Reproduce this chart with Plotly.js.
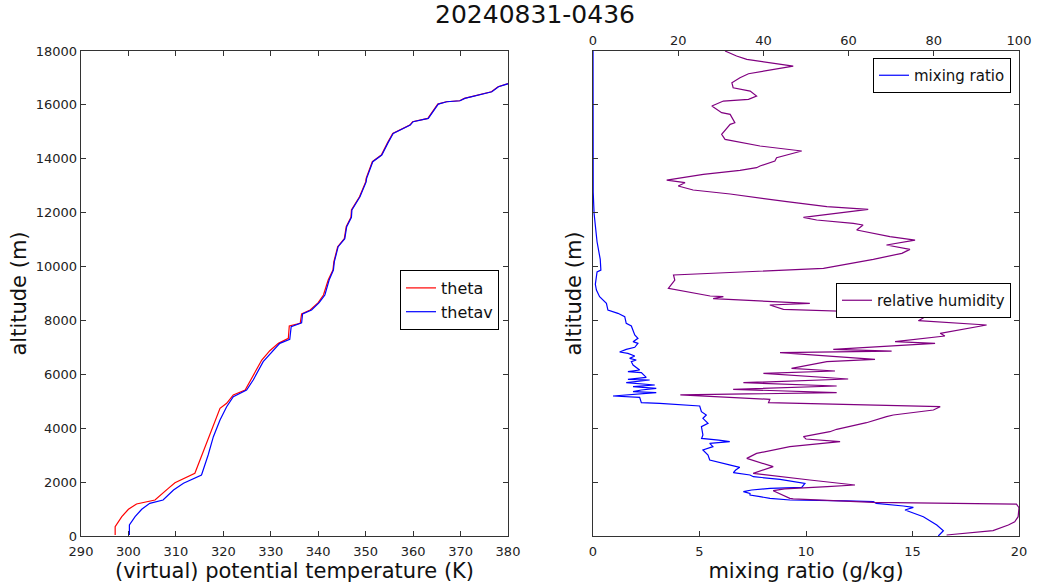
<!DOCTYPE html>
<html>
<head>
<meta charset="utf-8">
<script src="https://cdn.plot.ly/plotly-3.0.1.min.js"></script>
<style>html,body{margin:0;padding:0;background:#fff;}#chart{width:1039px;height:585px;}</style>
</head>
<body>
<div id="chart"></div>
<script>
// ---- data ----
var chartTitle = "20240831-0436";

var thetavAlt = [37, 408, 717, 990, 1212, 1336, 1707, 1955, 2264, 3006, 3686, 4305, 4799, 5170, 5418, 5789, 6470, 6840, 7150, 7300, 7768, 7916, 8239, 8387, 8660, 8944, 9500, 9871, 10180, 10737, 11035, 11479, 11825, 12098, 12592, 13140, 13274, 13891, 14139, 14590, 14944, 15252, 15376, 15500, 16031, 16117, 16154, 16243, 16320, 16489, 16674, 16798, 16950];
var thetavK = [300.2, 300.2, 301.4, 302.8, 304.5, 307.3, 309.5, 311.6, 315.4, 316.8, 317.9, 319.3, 320.7, 322.1, 324.9, 326.3, 328.4, 330.2, 331.9, 334.0, 334.3, 336.5, 336.7, 338.6, 340.2, 341.4, 342.3, 343.2, 343.4, 344.2, 345.6, 346.0, 347.0, 347.1, 348.8, 350.1, 350.2, 351.5, 353.4, 354.7, 355.8, 359.4, 360.0, 363.2, 365.3, 367.1, 369.9, 370.9, 372.6, 376.6, 378.0, 380.1, 383.0];

var thetaAlt = [37, 346, 717, 990, 1188, 1336, 1769, 1979, 2326, 2944, 3500, 4057, 4737, 4923, 5233, 5418, 5850, 6532, 6877, 7150, 7336, 7793, 7893, 8239, 8387, 8660, 8944, 9500, 9871, 10180, 10737, 11035, 11479, 11825, 12098, 12592, 13140, 13274, 13891, 14139, 14590, 14944, 15252, 15376, 15500, 16031, 16117, 16154, 16243, 16320, 16489, 16674, 16798, 16950];
var thetaK = [297.2, 297.2, 298.6, 300.0, 301.7, 305.6, 308.4, 309.8, 314.0, 315.4, 316.5, 317.9, 319.3, 320.7, 322.1, 324.6, 326.0, 328.1, 329.8, 331.6, 333.7, 333.9, 336.2, 336.5, 338.3, 340.0, 341.1, 342.1, 343.1, 343.3, 344.1, 345.5, 345.9, 346.9, 347.0, 348.7, 350.0, 350.1, 351.4, 353.3, 354.6, 355.7, 359.3, 359.9, 363.1, 365.2, 367.0, 369.8, 370.8, 372.5, 376.5, 377.9, 380.0, 382.9];

var mrAlt = [0, 198, 408, 717, 965, 1064, 1113, 1212, 1274, 1305, 1336, 1398, 1460, 1521, 1583, 1645, 1707, 1769, 1806, 1893, 1955, 2103, 2202, 2264, 2350, 2450, 2549, 2620, 2697, 2820, 3006, 3191, 3315, 3439, 3500, 3560, 3620, 3748, 4057, 4181, 4366, 4490, 4614, 4824, 4923, 4948, 5146, 5171, 5195, 5319, 5356, 5418, 5480, 5542, 5604, 5690, 5789, 5814, 5888, 6061, 6098, 6160, 6346, 6470, 6532, 6594, 6680, 6779, 6828, 6928, 7002, 7150, 7212, 7336, 7459, 7793, 7893, 8140, 8264, 8387, 8635, 8882, 9130, 9340, 9800, 9870, 10265, 10920, 11975, 12760, 14000, 16000, 18000];
var mrVal = [16.21, 16.45, 16.14, 15.51, 14.65, 15.04, 14.57, 13.3, 13.16, 11.9, 9.25, 8.31, 7.84, 7.37, 7.37, 7.06, 7.45, 8.31, 9.8, 9.87, 9.95, 8.78, 7.53, 7.37, 6.59, 6.7, 6.89, 6.5, 6.1, 5.48, 5.40, 5.16, 5.63, 5.48, 6.42, 5.9, 5.1, 5.16, 5.09, 5.40, 5.16, 5.32, 5.09, 5.01, 3.13, 2.27, 2.19, 1.56, 0.94, 2.97, 1.88, 2.27, 2.97, 1.88, 2.90, 1.56, 2.66, 1.64, 2.50, 2.27, 1.64, 2.19, 1.88, 1.80, 2.03, 1.72, 1.96, 1.64, 1.25, 1.56, 1.96, 2.11, 1.88, 2.11, 1.96, 1.80, 1.56, 1.49, 1.17, 0.70, 0.63, 0.31, 0.16, 0.11, 0.19, 0.37, 0.34, 0.19, 0.05, 0.01, 0.005, 0.003, 0.002];

var rhAlt = [37, 200, 408, 525, 717, 1050, 1185, 1250, 1380, 1398, 1682, 1750, 1831, 1893, 2078, 2326, 2573, 2882, 3067, 3315, 3501, 3600, 3686, 3871, 3960, 4205, 4428, 4490, 4676, 4799, 4948, 5072, 5237, 5319, 5443, 5567, 5690, 5826, 6037, 6123, 6223, 6470, 6557, 6803, 6865, 6929, 7150, 7212, 7422, 7522, 7830, 7991, 8239, 8412, 8573, 8635, 8808, 8882, 8907, 9192, 9500, 9686, 9934, 10268, 10491, 10639, 10799, 10984, 11109, 11356, 11541, 11604, 11727, 11827, 12124, 12221, 12407, 12692, 12840, 12989, 13112, 13211, 13423, 13570, 13669, 13731, 13916, 14040, 14288, 14473, 14721, 14906, 15277, 15339, 15648, 15710, 15957, 16143, 16205, 16329, 16514, 16637, 16823, 17009, 17157, 17442, 17690, 17813, 18000];
var rhVal = [83.0, 93.9, 97.5, 99.0, 99.8, 100, 99.4, 65.8, 47.0, 46.2, 42.3, 45.0, 55.0, 61.5, 50.9, 37.6, 42.3, 36.1, 38.4, 46.2, 58.0, 50.0, 49.4, 55.6, 57.2, 64.2, 68.9, 70.5, 79.9, 81.5, 41.2, 41.5, 20.5, 57.2, 32.9, 57.2, 35.3, 59.9, 40.0, 56.8, 46.6, 54.9, 66.2, 43.9, 70.1, 56.4, 80.3, 70.9, 82.6, 81.5, 92.4, 76.4, 79.1, 44.7, 41.5, 50.9, 28.2, 30.6, 27.5, 17.7, 19.2, 18.9, 54.1, 65.8, 72.5, 74.4, 68.9, 75.6, 69.7, 61.9, 63.4, 61.1, 52.5, 49.4, 64.6, 54.9, 45.5, 32.2, 23.5, 20.0, 21.6, 17.3, 25.9, 34.5, 38.4, 39.2, 42.7, 43.1, 49.0, 39.2, 31.0, 30.2, 32.2, 33.3, 32.2, 30.2, 27.9, 30.6, 36.5, 38.4, 36.9, 32.9, 32.6, 34.5, 36.5, 47.0, 36.1, 33.7, 31.0];

var tempTicks = [290, 300, 310, 320, 330, 340, 350, 360, 370, 380];
var altTicks = [0, 2000, 4000, 6000, 8000, 10000, 12000, 14000, 16000, 18000];
var mrTicks = [0, 5, 10, 15, 20];
var rhTicks = [0, 20, 40, 60, 80, 100];

// ---- chart ----
var FONT = "DejaVu Sans, Bitstream Vera Sans, sans-serif";
var FRAME = "#333";

var traces = [
  {x: thetaK, y: thetaAlt, name: "theta", type: "scatter", mode: "lines",
   line: {color: "#ff0000", width: 1.2}, xaxis: "x", yaxis: "y", legend: "legend"},
  {x: thetavK, y: thetavAlt, name: "thetav", type: "scatter", mode: "lines",
   line: {color: "#0000ff", width: 1.2}, xaxis: "x", yaxis: "y", legend: "legend"},
  {x: mrVal, y: mrAlt, name: "mixing ratio", type: "scatter", mode: "lines",
   line: {color: "#0000ff", width: 1.2}, xaxis: "x2", yaxis: "y2", legend: "legend2"},
  {x: rhVal, y: rhAlt, name: "relative humidity", type: "scatter", mode: "lines",
   line: {color: "#800080", width: 1.2}, xaxis: "x3", yaxis: "y2", legend: "legend3"}
];

function axisBase() {
  return {
    showgrid: false, zeroline: false, showline: true, linecolor: FRAME, linewidth: 1.3,
    ticks: "inside", ticklen: 5, tickwidth: 1, tickcolor: FRAME,
    tickfont: {family: FONT, size: 13, color: "#222"}, automargin: false
  };
}

var yDom = [1 - 536/585, 1 - 51/585];

var layout = {
  width: 1039, height: 585,
  margin: {l: 0, r: 0, t: 0, b: 0},
  paper_bgcolor: "#fff", plot_bgcolor: "#fff",
  font: {family: FONT, color: "#111"},
  showlegend: true,
  title: {text: chartTitle, x: 535/1039, xanchor: "center", y: 1 - 14/585, yanchor: "middle",
          font: {family: FONT, size: 25, color: "#111"}},
  xaxis: Object.assign(axisBase(), {
    domain: [81/1039, 508/1039], anchor: "y", range: [290, 380],
    tickvals: tempTicks, mirror: "ticks", ticklabelstandoff: 3,
    title: {text: "(virtual) potential temperature (K)", font: {family: FONT, size: 21, color: "#111"}, standoff: 4}
  }),
  yaxis: Object.assign(axisBase(), {
    domain: yDom, anchor: "x", range: [0, 18000],
    tickvals: altTicks, tickformat: "d", mirror: "ticks",
    title: {text: "altitude (m)", font: {family: FONT, size: 21, color: "#111"}, standoff: 3}
  }),
  xaxis2: Object.assign(axisBase(), {
    domain: [593/1039, 1019/1039], anchor: "y2", range: [0, 20],
    tickvals: mrTicks, mirror: false, side: "bottom", ticklabelstandoff: 3,
    title: {text: "mixing ratio (g/kg)", font: {family: FONT, size: 21, color: "#111"}, standoff: 4}
  }),
  xaxis3: Object.assign(axisBase(), {
    overlaying: "x2", anchor: "y2", side: "top", range: [0, 100],
    tickvals: rhTicks, mirror: false
  }),
  yaxis2: Object.assign(axisBase(), {
    domain: yDom, anchor: "x2", range: [0, 18000],
    tickvals: altTicks, tickformat: "d", showticklabels: false, mirror: "ticks",
    title: {text: "altitude (m)", font: {family: FONT, size: 21, color: "#111"}, standoff: 4}
  }),
  legend: {x: 499/1039, xanchor: "right", y: 1 - 270/585, yanchor: "top",
           bgcolor: "#fff", bordercolor: "#000", borderwidth: 1,
           font: {family: FONT, size: 16, color: "#111"}, itemwidth: 30},
  legend2: {x: 1011/1039, xanchor: "right", y: 1 - 58/585, yanchor: "top",
           bgcolor: "#fff", bordercolor: "#000", borderwidth: 1,
           font: {family: FONT, size: 15, color: "#111"}, itemwidth: 30},
  legend3: {x: 1011/1039, xanchor: "right", y: 1 - 283/585, yanchor: "top",
           bgcolor: "#fff", bordercolor: "#000", borderwidth: 1,
           font: {family: FONT, size: 15, color: "#111"}, itemwidth: 30}
};

Plotly.newPlot("chart", traces, layout, {staticPlot: true, displayModeBar: false});
</script>
</body>
</html>
